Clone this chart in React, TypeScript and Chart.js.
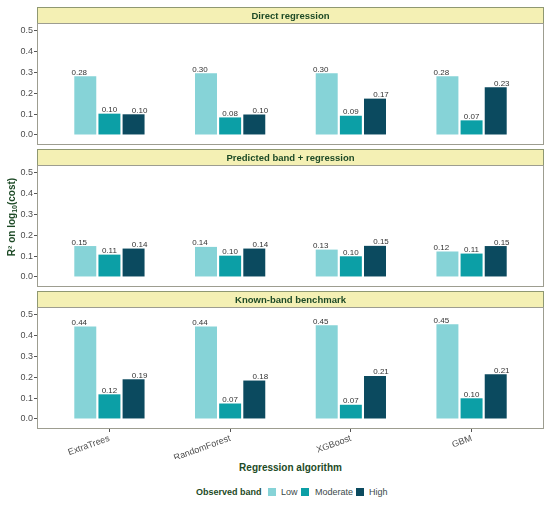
import React, { useEffect, useRef } from "react";
import { Chart, registerables, Plugin } from "chart.js";

Chart.register(...registerables);

const algorithms = ["ExtraTrees", "RandomForest", "XGBoost", "GBM"];
const bands = ["Low", "Moderate", "High"];
const bandColors = ["#86d3d7", "#0c9fa6", "#0b4a5f"];
const panelTitles = [
  "Direct regression",
  "Predicted band + regression",
  "Known-band benchmark",
];

const directLow = [0.281, 0.296, 0.296, 0.281];
const directModerate = [0.102, 0.084, 0.092, 0.07];
const directHigh = [0.099, 0.098, 0.174, 0.228];

const predictedLow = [0.148, 0.144, 0.131, 0.122];
const predictedModerate = [0.107, 0.102, 0.099, 0.112];
const predictedHigh = [0.136, 0.136, 0.149, 0.148];

const knownLow = [0.443, 0.443, 0.449, 0.453];
const knownModerate = [0.118, 0.074, 0.068, 0.099];
const knownHigh = [0.19, 0.184, 0.206, 0.214];

const yTicks = [0, 0.1, 0.2, 0.3, 0.4, 0.5];

const panelValues = [
  [directLow, directModerate, directHigh],
  [predictedLow, predictedModerate, predictedHigh],
  [knownLow, knownModerate, knownHigh],
];

const FONT = '"Liberation Sans", Arial, sans-serif';
const GREEN = "#1d4a26";
const GREY_TEXT = "#4d4d4d";
const STRIP_H = 16;
const PLOT_H = 122;
const PANEL_LEFT = 37;
const PANEL_RIGHT = 544;
const X_AXIS_H = 30;

const panelPlugin: Plugin<"bar"> = {
  id: "panelDecor",
  afterDraw(chart) {
    const { ctx, chartArea } = chart;
    const title = (chart.options.plugins as any).panelDecor?.title ?? "";
    const l = Math.round(chartArea.left) + 0.5;
    const r = Math.round(chartArea.right) - 0.5;
    const t = Math.round(chartArea.top) + 0.5;
    const b = Math.round(chartArea.bottom) - 0.5;
    ctx.save();
    // strip
    ctx.fillStyle = "#f4f0b4";
    ctx.fillRect(l, t - STRIP_H, r - l, STRIP_H);
    ctx.strokeStyle = "#8f9872";
    ctx.lineWidth = 1;
    ctx.strokeRect(l, t - STRIP_H, r - l, STRIP_H);
    ctx.fillStyle = GREEN;
    ctx.font = `bold 9.5px ${FONT}`;
    ctx.textAlign = "center";
    ctx.textBaseline = "middle";
    ctx.fillText(title, (l + r) / 2, t - STRIP_H / 2 + 0.5);
    // panel border
    ctx.strokeStyle = "#9d9d90";
    ctx.strokeRect(l, t, r - l, b - t);
    ctx.restore();
  },
};

const valueLabelPlugin: Plugin<"bar"> = {
  id: "valueLabels",
  afterDatasetsDraw(chart) {
    const { ctx } = chart;
    const xScale = chart.scales.x;
    const yScale = chart.scales.y;
    ctx.save();
    ctx.font = `8px ${FONT}`;
    ctx.fillStyle = "#333333";
    ctx.textAlign = "center";
    ctx.textBaseline = "alphabetic";
    chart.data.datasets.forEach((ds, i) => {
      (ds.data as any[]).forEach((pt, j) => {
        const x = xScale.getPixelForValue(j + 1 + (i - 1) * 0.25);
        const y = yScale.getPixelForValue(pt.y) - 1.5;
        ctx.fillText(pt.y.toFixed(2), x, y);
      });
    });
    ctx.restore();
  },
};

function Panel({ index, top }: { index: number; top: number }) {
  const canvasRef = useRef<HTMLCanvasElement | null>(null);
  const showX = index === 2;
  const height = 2 + STRIP_H + PLOT_H + (showX ? X_AXIS_H : 2);

  useEffect(() => {
    const ctx = canvasRef.current?.getContext("2d");
    if (!ctx) return;
    const values = panelValues[index];
    const chart = new Chart(ctx, {
      type: "bar",
      data: {
        datasets: bands.map((band, i) => ({
          label: band,
          data: values[i].map((v, j) => ({ x: j + 1, y: v })),
          backgroundColor: bandColors[i],
          borderWidth: 0,
          categoryPercentage: 0.6,
          barPercentage: 0.91,
        })),
      },
      options: {
        animation: false,
        responsive: false,
        maintainAspectRatio: false,
        devicePixelRatio: 1,
        layout: {
          padding: {
            top: 2 + STRIP_H,
            left: 0,
            right: 550 - PANEL_RIGHT,
            bottom: showX ? 0 : 2,
          },
        },
        plugins: {
          legend: { display: false },
          tooltip: { enabled: false },
          panelDecor: { title: panelTitles[index] },
        } as any,
        scales: {
          x: {
            type: "linear",
            min: 0.4,
            max: 4.6,
            offset: false,
            display: showX,
            afterBuildTicks: (scale) => {
              scale.ticks = algorithms.map((_, j) => ({ value: j + 1 }));
            },
            afterFit: (scale: any) => {
              scale.height = showX ? X_AXIS_H : 0;
              scale.paddingLeft = 0;
              scale.paddingRight = 0;
            },
            grid: {
              display: true,
              drawOnChartArea: false,
              drawTicks: true,
              tickLength: 3,
              color: "#555555",
              offset: false,
            },
            border: { display: false },
            ticks: {
              autoSkip: false,
              minRotation: 20,
              maxRotation: 20,
              padding: 1,
              color: GREY_TEXT,
              font: { family: FONT, size: 9 },
              callback: (v) => algorithms[Number(v) - 1] ?? "",
            },
          },
          y: {
            type: "linear",
            min: -0.048,
            max: 0.536,
            afterBuildTicks: (scale) => {
              scale.ticks = yTicks.map((v) => ({ value: v }));
            },
            afterFit: (scale: any) => {
              scale.width = PANEL_LEFT;
              scale.paddingTop = 0;
              scale.paddingBottom = 0;
            },
            grid: {
              display: true,
              drawOnChartArea: false,
              drawTicks: true,
              tickLength: 3,
              color: "#555555",
            },
            border: { display: false },
            ticks: {
              padding: 1,
              color: GREY_TEXT,
              font: { family: FONT, size: 9 },
              callback: (v) => Number(v).toFixed(1),
            },
          },
        },
      },
      plugins: [panelPlugin, valueLabelPlugin],
    });
    return () => chart.destroy();
  }, [index]);

  return (
    <canvas
      ref={canvasRef}
      width={550}
      height={height}
      style={{ position: "absolute", left: 0, top: top - 2, width: 550, height }}
    />
  );
}

export default function App() {
  const stripTops = [7, 149, 291];
  const legendItems = [
    { box: 268, text: 281 },
    { box: 301, text: 315 },
    { box: 356, text: 369 },
  ];
  return (
    <div
      style={{
        position: "fixed",
        left: 0,
        top: 0,
        width: 550,
        height: 505,
        background: "#ffffff",
        fontFamily: FONT,
        overflow: "hidden",
      }}
    >
      {stripTops.map((t, i) => (
        <Panel key={i} index={i} top={t} />
      ))}
      <div
        style={{
          position: "absolute",
          left: 12 - 100,
          top: 217 - 7,
          width: 200,
          height: 14,
          lineHeight: "14px",
          textAlign: "center",
          transform: "rotate(-90deg)",
          fontWeight: "bold",
          fontSize: 10,
          color: GREEN,
          whiteSpace: "nowrap",
        }}
      >
        R² on log<span style={{ fontSize: 7, verticalAlign: "-2px" }}>10</span>(cost)
      </div>
      <div
        style={{
          position: "absolute",
          left: PANEL_LEFT,
          width: PANEL_RIGHT - PANEL_LEFT,
          top: 461,
          lineHeight: "13px",
          textAlign: "center",
          fontWeight: "bold",
          fontSize: 10,
          color: GREEN,
        }}
      >
        Regression algorithm
      </div>
      <div
        style={{
          position: "absolute",
          left: 196,
          top: 486,
          lineHeight: "12px",
          fontWeight: "bold",
          fontSize: 9,
          color: GREEN,
          whiteSpace: "nowrap",
        }}
      >
        Observed band
      </div>
      {bands.map((band, i) => (
        <React.Fragment key={band}>
          <div
            style={{
              position: "absolute",
              left: legendItems[i].box,
              top: 488,
              width: 8,
              height: 8,
              background: bandColors[i],
            }}
          />
          <div
            style={{
              position: "absolute",
              left: legendItems[i].text,
              top: 486,
              lineHeight: "12px",
              fontSize: 9,
              color: "#3b4a4a",
              whiteSpace: "nowrap",
            }}
          >
            {band}
          </div>
        </React.Fragment>
      ))}
    </div>
  );
}
